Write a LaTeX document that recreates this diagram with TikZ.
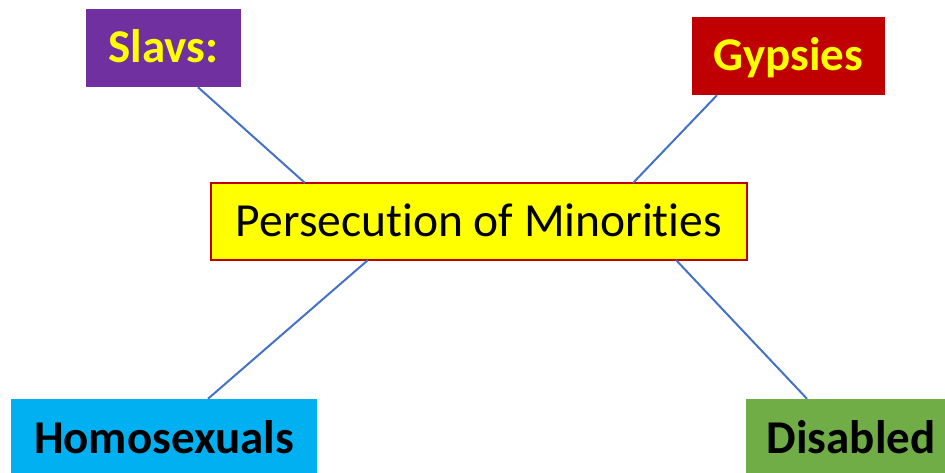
\documentclass[tikz,border=0pt]{standalone}
\usepackage{fontspec}
\setmainfont{Carlito}[Ligatures=NoCommon]
\definecolor{cpurple}{HTML}{7030A0}
\definecolor{cred}{HTML}{C00000}
\definecolor{ccyan}{HTML}{00B0F0}
\definecolor{cgreen}{HTML}{70AD47}
\definecolor{cyellow}{HTML}{FFFF00}
\definecolor{cline}{HTML}{4472C4}
\definecolor{cborder}{HTML}{C00000}
\tikzset{
  box/.style={rectangle, inner sep=0pt, text height=30pt, text depth=0pt, align=center,
    font=\fontsize{47.5}{56}\selectfont},
  catbox/.style={box, font=\fontsize{47}{56}\selectfont\bfseries},
  link/.style={draw=cline, line width=2pt}
}
\begin{document}
\begin{tikzpicture}[x=1pt,y=-1pt]
\useasboundingbox (0,0) rectangle (945,473);
\node[box, fill=cyellow, draw=cborder, line width=2pt, minimum width=536pt, minimum height=77pt] (center) at (479,221.5) {Persecution of Minorities};
\node[catbox, fill=cpurple, text=cyellow, minimum width=155pt, minimum height=78pt] (slavs) at (163.5,48) {Slavs:};
\node[catbox, fill=cred, text=cyellow, minimum width=193pt, minimum height=78pt] (gypsies) at (788.5,56) {Gypsies};
\node[catbox, fill=ccyan, text=black, minimum width=306pt, minimum height=78pt] (homo) at (164,438) {Homosexuals};
\node[catbox, fill=cgreen, text=black, minimum width=210pt, minimum height=78pt] (disabled) at (851,438) {Disabled};
\draw[link] ([xshift=34.5pt]slavs.south) -- ([xshift=-174pt,yshift=-1pt]center.north);
\draw[link] ([xshift=-71.5pt]gypsies.south) -- ([xshift=154pt,yshift=-1pt]center.north);
\draw[link] ([xshift=44pt]homo.north) -- ([xshift=-111pt,yshift=1pt]center.south);
\draw[link] ([xshift=-44pt]disabled.north) -- ([xshift=197pt,yshift=1pt]center.south);
\end{tikzpicture}
\end{document}
